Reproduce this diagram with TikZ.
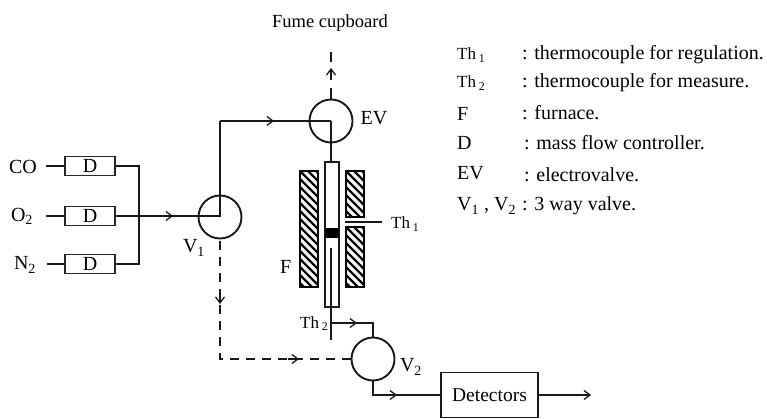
\documentclass[tikz,border=0pt]{standalone}
\usepackage{fontspec}
\setmainfont{Liberation Serif}
\usetikzlibrary{arrows.meta}
\newcommand{\hatchbox}[4]{%
 \begin{scope}
 \clip (#1,#2) rectangle (#3,#4);
 \foreach \k in {-4,...,40}{
  \draw[line width=2.2pt,black] (#1-4,#2+\k*8-4) -- ++(30,30);
 }
 \end{scope}
 \draw[line width=2.2pt,black] (#1,#2) rectangle (#3,#4);
}
\tikzset{
 x=1pt,y=-1pt,
 txt/.style={inner sep=0pt,font=\fontsize{20}{22}\selectfont},
 small/.style={inner sep=0pt,font=\fontsize{17}{19}\selectfont},
 leg/.style={inner sep=0pt,anchor=base west,font=\fontsize{20}{22}\selectfont},
 legs/.style={inner sep=0pt,anchor=base west,font=\fontsize{17}{19}\selectfont},
 ln/.style={line width=1.3pt,draw=black!90},
 thick line/.style={line width=1.8pt,draw=black!90},
 dsh/.style={line width=1.7pt,draw=black!90,dash pattern=on 9pt off 7pt},
 seg/.style={line width=1.7pt,draw=black!90},
 valve/.style={circle,draw=black!90,line width=1.9pt,minimum size=43pt,inner sep=0pt},
 dbox/.style={draw=black!85,line width=1.6pt,minimum width=50pt,minimum height=19pt,inner sep=0pt,font=\fontsize{20}{22}\selectfont},
 tip/.style={-{Straight Barb[length=6pt,width=9pt,line width=1.3pt]}},
}
\begin{document}
\begin{tikzpicture}
\useasboundingbox (0,0) rectangle (767,419);
% gases and controllers
\node[dbox] (d1) at (90,166) {D};
\node[dbox] (d2) at (90,216) {D};
\node[dbox] (d3) at (90,264) {D};
\node[txt] (co) at (23,167) {CO};
\node[txt] (o2) at (22,216) {O$_{\mathrm 2}$};
\node[txt] (n2) at (25,265) {N$_{\mathrm 2}$};
\coordinate (c1) at (46,166);
\coordinate (c2) at (46,216);
\coordinate (c3) at (47,264);
\draw[ln] (c1) -- (d1.west);
\draw[ln] (c2) -- (d2.west);
\draw[ln] (c3) -- (d3.west);
% valves
\node[valve] (v1) at (220,217) {};
\node[valve] (ev) at (331,121) {};
\node[valve] (v2) at (373,359) {};
\node[txt] (v1l) at (194,248) {V$_{\mathrm 1}$};
\node[txt] (v2l) at (411,367) {V$_{\mathrm 2}$};
\node[txt] (evl) at (374,118) {EV};
% bus
\coordinate (b1) at (139,166);
\coordinate (b3) at (139,264);
\draw[thick line] (d1.east) -- (b1) -- (b3) -- (d3.east);
\draw[thick line] (d2.east) -- (220,216) -- (220,121);
\draw[tip,ln] (165,216) -- (173,216);
\draw[ln] (220,121) -- (331,121);
\draw[tip,ln] (262,121) -- (274,121);
% furnace
\hatchbox{300}{171}{318}{287}
\hatchbox{346}{171}{364}{217}
\hatchbox{346}{227}{364}{287}
% tube
\node[draw=black!90,line width=1.7pt,minimum width=14pt,minimum height=145pt,inner sep=0pt] (tube) at (332,234.5) {};
\fill[black] (325,228) rectangle (339,238);
\draw[ln] (ev.center) -- (ev.center |- tube.north);
\draw[thick line] (331,248) -- (331,340);
\coordinate (j) at (331,323);
\coordinate (jr) at (373,323);
\draw[ln] (j) -- (jr) -- (v2.north);
\draw[tip,ln] (345,323) -- (357,323);
% Th1
\coordinate (t1a) at (345,222);
\coordinate (t1b) at (382,222);
\draw[ln] (t1a) -- (t1b);
\node[legs] (th1) at (391,229) {Th$\,_{\mathrm 1}$};
\node[legs] (th2) at (300,328) {Th$\,_{\mathrm 2}$};
\node[txt,anchor=base west] (f) at (280,273) {F};
% dashed
\coordinate (dc) at (220,359);
\draw[dsh] (220,241) -- (dc) -- (v2.west);
\draw[tip,ln] (220,296) -- (220,304);
\draw[tip,ln] (288,359) -- (299,359);
% EV top
\coordinate (top) at (331,52);
\coordinate (top2) at (331,62);
\coordinate (mid) at (331,88);
\coordinate (tipe) at (331,68);
\coordinate (tips) at (331,80);
\draw[seg] (ev.north) -- (mid);
\draw[tip,seg] (tips) -- (tipe);
\draw[seg] (top2) -- (top);
\node[inner sep=0pt,anchor=base,font=\fontsize{18.5}{20}\selectfont] (fume) at (330,28) {Fume cupboard};
% detectors
\node[draw=black!90,line width=1.5pt,minimum width=97pt,minimum height=45pt,inner sep=0pt,font=\fontsize{19.5}{21}\selectfont] (det) at (489.5,395) {Detectors};
\coordinate (v2b) at (373,395);
\draw[ln] (v2.south) -- (v2b) -- (det.west);
\draw[tip,ln] (385,395) -- (397,395);
\coordinate (out) at (591,395);
\draw[tip,ln] (det.east) -- (out);
% legend
\node[legs] (l1) at (457,60) {Th$\,_{\mathrm 1}$};
\node[leg] (l1t) at (522,60) {: thermocouple for regulation.};
\node[legs] (l2) at (457,88) {Th$\,_{\mathrm 2}$};
\node[leg] (l2t) at (522,88) {: thermocouple for measure.};
\node[leg] (l3) at (457,121) {F};
\node[leg] (l3t) at (522,120) {: furnace.};
\node[leg] (l4) at (457,150) {D};
\node[leg] (l4t) at (524,150) {: mass flow controller.};
\node[leg] (l5) at (457,180) {EV};
\node[leg] (l5t) at (524,182) {: electrovalve.};
\node[leg] (l6) at (457,211) {V$_{\mathrm 1}$ , V$_{\mathrm 2}$};
\node[leg] (l6t) at (522,211) {: 3 way valve.};
\end{tikzpicture}
\end{document}
